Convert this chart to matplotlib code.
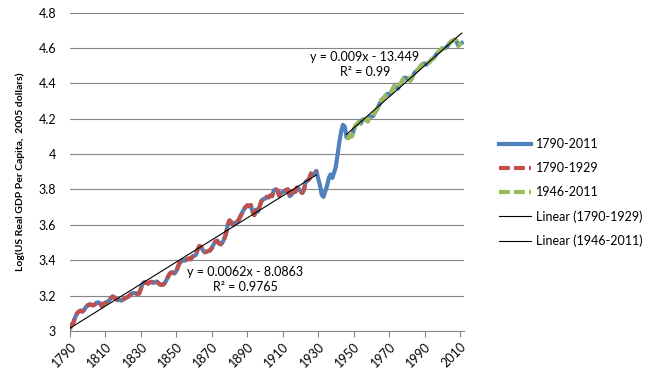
import numpy as np
import matplotlib.pyplot as plt

plt.rcParams['font.family'] = ['Lato', 'DejaVu Sans']

# log10 of US real GDP per capita (2005 dollars), 1790-2011
years = np.arange(1790, 2012)
log_gdp = [
    3.015, 3.035, 3.05, 3.08, 3.10, 3.11, 3.115, 3.11, 3.12, 3.135,      # 1790s
    3.145, 3.15, 3.148, 3.145, 3.15, 3.16, 3.162, 3.155, 3.14, 3.155,    # 1800s
    3.16, 3.165, 3.172, 3.185, 3.195, 3.19, 3.18, 3.175, 3.175, 3.172,   # 1810s
    3.178, 3.185, 3.19, 3.195, 3.205, 3.212, 3.215, 3.213, 3.21, 3.212,  # 1820s
    3.24, 3.268, 3.275, 3.272, 3.268, 3.275, 3.278, 3.272, 3.275, 3.28,  # 1830s
    3.268, 3.262, 3.26, 3.265, 3.28, 3.30, 3.32, 3.33, 3.33, 3.325,      # 1840s
    3.34, 3.365, 3.39, 3.395, 3.40, 3.398, 3.405, 3.41, 3.405, 3.42,     # 1850s
    3.425, 3.43, 3.46, 3.48, 3.475, 3.455, 3.445, 3.448, 3.452, 3.455,   # 1860s
    3.468, 3.49, 3.505, 3.51, 3.495, 3.49, 3.50, 3.52, 3.55, 3.60,       # 1870s
    3.625, 3.615, 3.60, 3.61, 3.615, 3.625, 3.645, 3.665, 3.685, 3.70,   # 1880s
    3.71, 3.705, 3.712, 3.675, 3.655, 3.685, 3.675, 3.705, 3.735, 3.745, # 1890s
    3.748, 3.758, 3.755, 3.765, 3.762, 3.795, 3.80, 3.795, 3.765, 3.782, # 1900s
    3.785, 3.79, 3.798, 3.80, 3.762, 3.77, 3.79, 3.785, 3.81, 3.805,     # 1910s
    3.79, 3.78, 3.80, 3.845, 3.85, 3.86, 3.89, 3.885, 3.89, 3.905,       # 1920s
    3.86, 3.825, 3.77, 3.758, 3.79, 3.82, 3.865, 3.885, 3.865, 3.895,    # 1930s
    3.93, 4.00, 4.07, 4.13, 4.165, 4.155, 4.095, 4.09, 4.105, 4.10,      # 1940s
    4.135, 4.16, 4.17, 4.18, 4.172, 4.195, 4.195, 4.195, 4.185, 4.21,    # 1950s
    4.212, 4.215, 4.235, 4.25, 4.27, 4.29, 4.31, 4.315, 4.33, 4.34,      # 1960s
    4.335, 4.345, 4.365, 4.385, 4.378, 4.37, 4.39, 4.405, 4.425, 4.433,  # 1970s
    4.425, 4.43, 4.415, 4.43, 4.455, 4.465, 4.475, 4.485, 4.50, 4.51,    # 1980s
    4.512, 4.505, 4.515, 4.522, 4.535, 4.54, 4.553, 4.568, 4.578, 4.585, # 1990s
    4.598, 4.597, 4.60, 4.61, 4.625, 4.635, 4.642, 4.646, 4.64, 4.612,   # 2000s
    4.622, 4.628,                                                        # 2010s
]
log_gdp = np.array(log_gdp)

early = (years >= 1790) & (years <= 1929)
late = (years >= 1946) & (years <= 2011)

blue = '#4F81BD'
red = '#C0504D'
green = '#9BBB59'
grey = '#868686'

fig = plt.figure(figsize=(6.52, 3.86), dpi=100)
ax = fig.add_axes([0.1074, 0.1425, 0.6043, 0.8251])

ax.plot(years, log_gdp, color=blue, lw=3, label='1790-2011', zorder=3)
ax.plot(years[early], log_gdp[early], color=red, lw=3, dashes=(2.6, 1.0),
        label='1790-1929', zorder=4)
ax.plot(years[late], log_gdp[late], color=green, lw=3, dashes=(2.6, 1.0),
        label='1946-2011', zorder=4)

# linear trend lines fitted to the two periods
for mask, lab in [(early, 'Linear (1790-1929)'), (late, 'Linear (1946-2011)')]:
    k, b = np.polyfit(years[mask], log_gdp[mask], 1)
    xs = years[mask][[0, -1]]
    ax.plot(xs, k * xs + b, color='black', lw=0.8, label=lab, zorder=5)

ax.text(1889, 3.336, 'y = 0.0062x - 8.0863', ha='center', va='center', fontsize=9)
ax.text(1889, 3.247, 'R² = 0.9765', ha='center', va='center', fontsize=9)
ax.text(1956.3, 4.549, 'y = 0.009x - 13.449', ha='center', va='center', fontsize=9)
ax.text(1956.3, 4.464, 'R² = 0.99', ha='center', va='center', fontsize=9)

ax.set_xlim(1790, 2012.3)
ax.set_ylim(3, 4.8)
ax.set_xticks(np.arange(1790, 2011, 20))
ax.set_yticks(np.arange(3, 4.81, 0.2))
ax.set_yticklabels(['3', '3.2', '3.4', '3.6', '3.8', '4', '4.2', '4.4', '4.6', '4.8'])
ax.grid(axis='y', color=grey, lw=0.8)
ax.set_axisbelow(True)
for s in ['top', 'right', 'left']:
    ax.spines[s].set_visible(False)
ax.spines['bottom'].set_color(grey)
ax.spines['bottom'].set_linewidth(0.8)
ax.tick_params(axis='y', length=0, pad=10, labelsize=9)
ax.tick_params(axis='x', length=4, color=grey, width=0.8, labelsize=9, pad=3)
plt.setp(ax.get_xticklabels(), rotation=45, ha='right', rotation_mode='anchor')

ax.set_ylabel('Log(US Real GDP Per Capita,  2005 dollars)', fontsize=7.5,
              fontweight='bold')
ax.yaxis.set_label_coords(-0.114, 0.5)

ax.legend(loc='upper left', bbox_to_anchor=(1.06, 0.64), frameon=False,
          fontsize=9, handlelength=2.6, labelspacing=0.95, handletextpad=0.4)

fig.savefig('out.png', dpi=100)
